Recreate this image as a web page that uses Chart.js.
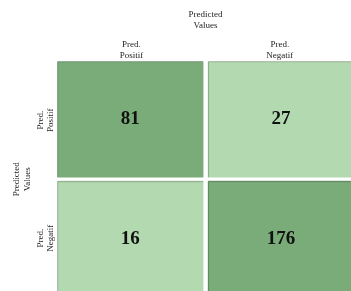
<!DOCTYPE html>
<html>
<head>
<meta charset="utf-8">
<script src="https://cdn.jsdelivr.net/npm/chart.js@4.4.0/dist/chart.umd.min.js"></script>
<style>
    html, body { margin: 0; padding: 0; background: #fff; overflow: hidden; }
    #wrap { width: 354px; height: 306px; }
</style>
</head>
<body>
<div id="wrap"><canvas id="cm-chart"></canvas></div>
<script>
// Data confusion matrix
const colLabels = [['Pred.', 'Positif'], ['Pred.', 'Negatif']];
const rowLabels = [['Pred.', 'Positif'], ['Pred.', 'Negatif']];
const rowPositif = [81, 27];
const rowNegatif = [16, 176];
const axisTitle = ['Predicted', 'Values'];

const darkGreen = '#7aac79';
const lightGreen = '#b2d9b0';
const serif = "'Liberation Serif', 'Times New Roman', serif";

// warna: diagonal gelap, sisanya terang
function cellColors(rowIndex) {
    return colLabels.map((c, j) => j === rowIndex ? darkGreen : lightGreen);
}

// celah putih antar sel (kiri/kanan tergantung kolom)
function cellBorder(top, bottom) {
    return (c) => ({
        top: top,
        bottom: bottom,
        left: c.dataIndex === 0 ? 0 : 2.5,
        right: c.dataIndex === 0 ? 2.5 : 0
    });
}

// angka di tengah setiap sel + garis bayangan tipis
const cellTextPlugin = {
    id: 'cellText',
    afterDatasetsDraw(chart) {
        const ctx = chart.ctx;
        ctx.save();
        chart.data.datasets.forEach((ds, i) => {
            const meta = chart.getDatasetMeta(i);
            meta.data.forEach((bar, j) => {
                const p = bar.getProps(['x', 'y', 'base', 'width'], true);
                const bw = bar.options.borderWidth;
                const left = p.x - p.width / 2 + (bw.left || 0);
                const right = p.x + p.width / 2 - (bw.right || 0);
                const top = Math.min(p.y, p.base) + (bw.top || 0);
                const bottom = Math.max(p.y, p.base) - (bw.bottom || 0);
                ctx.strokeStyle = 'rgba(0,0,0,0.22)';
                ctx.lineWidth = 1;
                ctx.beginPath();
                ctx.moveTo(left + 0.5, bottom);
                ctx.lineTo(left + 0.5, top + 0.5);
                ctx.lineTo(right, top + 0.5);
                ctx.stroke();

                ctx.fillStyle = '#111';
                ctx.font = 'bold 19px ' + serif;
                ctx.textAlign = 'center';
                ctx.textBaseline = 'middle';
                ctx.fillText(ds.counts[j], (left + right) / 2, (top + bottom) / 2);
            });
        });
        ctx.restore();
    }
};

const ctx = document.getElementById('cm-chart').getContext('2d');
const chart = new Chart(ctx, {
    type: 'bar',
    data: {
        labels: colLabels,
        datasets: [
            {
                label: 'Pred. Negatif',
                data: rowNegatif.map(() => 1),
                counts: rowNegatif,
                backgroundColor: cellColors(1),
                borderColor: '#ffffff',
                borderWidth: cellBorder(2, 0),
                borderSkipped: false
            },
            {
                label: 'Pred. Positif',
                data: rowPositif.map(() => 1),
                counts: rowPositif,
                backgroundColor: cellColors(0),
                borderColor: '#ffffff',
                borderWidth: cellBorder(0, 2),
                borderSkipped: false
            }
        ]
    },
    options: {
        responsive: true,
        maintainAspectRatio: false,
        animation: false,
        barPercentage: 1,
        categoryPercentage: 1,
        layout: { padding: { top: 9, left: 11, right: 0, bottom: 0 } },
        scales: {
            x: {
                position: 'top',
                stacked: true,
                grid: { display: false, drawTicks: false },
                border: { display: false },
                ticks: {
                    color: '#222',
                    font: { family: serif, size: 9 },
                    padding: 0,
                    maxRotation: 0
                },
                title: {
                    display: true,
                    text: axisTitle,
                    color: '#222',
                    font: { family: serif, size: 9 },
                    padding: { top: 0, bottom: 9 }
                }
            },
            y: {
                stacked: true,
                min: 0,
                max: 2,
                grid: { display: false, drawTicks: false },
                border: { display: false },
                afterBuildTicks: (scale) => {
                    scale.ticks = [{ value: 0.5 }, { value: 1.5 }];
                },
                ticks: {
                    autoSkip: false,
                    minRotation: 90,
                    maxRotation: 90,
                    crossAlign: 'center',
                    padding: -2,
                    color: '#222',
                    font: { family: serif, size: 9 },
                    callback: (v) => v > 1 ? rowLabels[0] : rowLabels[1]
                },
                title: {
                    display: true,
                    text: axisTitle,
                    color: '#222',
                    font: { family: serif, size: 9 },
                    padding: { top: 0, bottom: 7 }
                }
            }
        },
        plugins: {
            legend: { display: false },
            tooltip: { enabled: false }
        }
    },
    plugins: [cellTextPlugin]
});
</script>
</body>
</html>
